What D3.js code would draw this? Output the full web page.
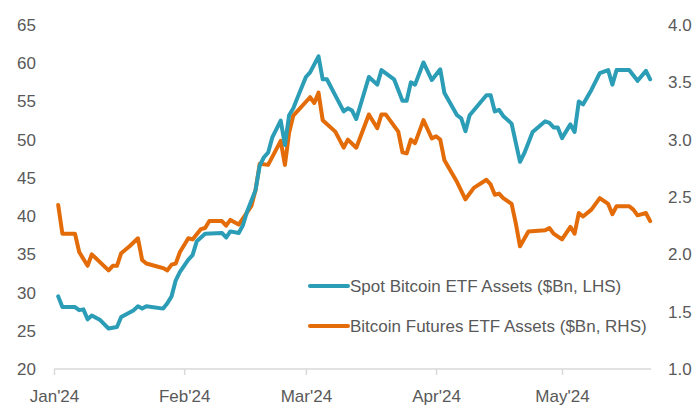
<!DOCTYPE html>
<html>
<head>
<meta charset="utf-8">
<script src="https://cdn.jsdelivr.net/npm/d3@7"></script>
<style>
  html, body { margin: 0; padding: 0; background: #fff; }
  svg { display: block; }
  text { font-family: "Liberation Sans", Arial, sans-serif; fill: #595959; }
</style>
</head>
<body>
<svg id="chart" width="696" height="409"></svg>
<script>
// Spot Bitcoin ETF assets, $Bn (left axis)
const spotDates = ["2024-01-02","2024-01-03","2024-01-06","2024-01-07","2024-01-08","2024-01-09","2024-01-10","2024-01-12","2024-01-14","2024-01-16","2024-01-17","2024-01-20","2024-01-21","2024-01-22","2024-01-23","2024-01-27","2024-01-28","2024-01-29","2024-01-30","2024-01-31","2024-02-02","2024-02-03","2024-02-04","2024-02-06","2024-02-10","2024-02-11","2024-02-12","2024-02-14","2024-02-15","2024-02-16","2024-02-18","2024-02-19","2024-02-20","2024-02-21","2024-02-22","2024-02-24","2024-02-25","2024-02-26","2024-02-27","2024-02-28","2024-03-01","2024-03-02","2024-03-04","2024-03-05","2024-03-06","2024-03-08","2024-03-10","2024-03-11","2024-03-12","2024-03-13","2024-03-16","2024-03-18","2024-03-19","2024-03-22","2024-03-24","2024-03-25","2024-03-26","2024-03-27","2024-03-29","2024-03-31","2024-04-02","2024-04-03","2024-04-06","2024-04-07","2024-04-08","2024-04-09","2024-04-13","2024-04-14","2024-04-15","2024-04-16","2024-04-17","2024-04-19","2024-04-21","2024-04-22","2024-04-24","2024-04-27","2024-04-28","2024-04-29","2024-04-30","2024-05-01","2024-05-03","2024-05-04","2024-05-05","2024-05-06","2024-05-08","2024-05-10","2024-05-12","2024-05-13","2024-05-14","2024-05-17","2024-05-19","2024-05-21","2024-05-22"];
const spotValues = [29.5,28.1,28.1,27.7,27.8,26.5,27.0,26.4,25.3,25.5,26.8,27.7,28.2,27.9,28.2,27.9,28.6,29.5,31.6,32.7,34.3,34.9,36.7,37.7,37.8,37.2,38.0,37.8,38.8,40.6,43.4,46.6,47.7,48.3,50.3,52.5,49.3,53.2,54.1,55.5,58.2,58.8,60.9,57.9,57.9,55.8,53.7,54.1,53.8,52.7,58.2,57.2,59.1,57.9,55.1,55.1,57.5,57.2,60.1,57.8,59.2,56.1,53.2,52.8,51.1,53.2,55.8,55.8,53.7,53.9,53.1,52.1,47.1,48.2,51.0,52.4,52.2,51.6,51.6,50.2,52.0,51.0,55.0,54.6,56.5,58.7,59.1,57.2,59.1,59.1,57.7,59.0,57.9];

// Bitcoin futures ETF assets, $Bn (right axis)
const futDates = ["2024-01-02","2024-01-03","2024-01-06","2024-01-07","2024-01-09","2024-01-10","2024-01-14","2024-01-15","2024-01-16","2024-01-17","2024-01-19","2024-01-21","2024-01-22","2024-01-23","2024-01-26","2024-01-27","2024-01-28","2024-01-29","2024-01-30","2024-01-31","2024-02-02","2024-02-03","2024-02-05","2024-02-06","2024-02-07","2024-02-10","2024-02-11","2024-02-12","2024-02-14","2024-02-17","2024-02-18","2024-02-19","2024-02-21","2024-02-24","2024-02-25","2024-02-26","2024-02-27","2024-03-02","2024-03-03","2024-03-04","2024-03-05","2024-03-08","2024-03-10","2024-03-11","2024-03-13","2024-03-16","2024-03-18","2024-03-19","2024-03-20","2024-03-23","2024-03-24","2024-03-25","2024-03-26","2024-03-27","2024-03-29","2024-03-31","2024-04-01","2024-04-02","2024-04-03","2024-04-06","2024-04-08","2024-04-10","2024-04-13","2024-04-14","2024-04-15","2024-04-16","2024-04-17","2024-04-19","2024-04-20","2024-04-21","2024-04-23","2024-04-27","2024-04-28","2024-04-29","2024-05-01","2024-05-03","2024-05-04","2024-05-05","2024-05-06","2024-05-08","2024-05-10","2024-05-12","2024-05-13","2024-05-14","2024-05-17","2024-05-18","2024-05-19","2024-05-21","2024-05-22"];
const futValues = [2.43,2.18,2.18,2.02,1.90,2.00,1.86,1.90,1.90,2.01,2.07,2.14,1.95,1.92,1.89,1.88,1.86,1.91,1.92,2.02,2.14,2.13,2.22,2.23,2.29,2.29,2.25,2.30,2.26,2.42,2.56,2.79,2.78,2.99,2.78,3.06,3.21,3.37,3.32,3.41,3.17,3.07,2.93,3.00,2.93,3.22,3.10,3.22,3.22,3.07,2.89,2.88,3.00,2.97,3.17,3.01,3.03,3.00,2.82,2.63,2.48,2.58,2.65,2.61,2.52,2.53,2.49,2.44,2.27,2.07,2.20,2.21,2.23,2.18,2.13,2.24,2.18,2.36,2.33,2.39,2.49,2.44,2.35,2.42,2.42,2.39,2.34,2.36,2.29];

const leftTicks = [20,25,30,35,40,45,50,55,60,65];
const rightTicks = [1.0,1.5,2.0,2.5,3.0,3.5,4.0];
const seriesNames = ["Spot Bitcoin ETF Assets ($Bn, LHS)", "Bitcoin Futures ETF Assets ($Bn, RHS)"];
const colors = ["#2b9db6", "#e36c09"];

const parse = d3.utcParse("%Y-%m-%d");
const spot = spotDates.map((d, i) => ({ date: parse(d), value: spotValues[i] }));
const fut = futDates.map((d, i) => ({ date: parse(d), value: futValues[i] }));

const svg = d3.select("#chart");

const x = d3.scaleUtc()
  .domain([parse("2024-01-01"), parse("2024-05-01")])
  .range([54, 562]);
const yL = d3.scaleLinear().domain([20, 65]).range([369, 25]);
const yR = d3.scaleLinear().domain([1.0, 4.0]).range([369, 25]);

const lastDate = d3.max(spot, d => d.date);

// x axis: baseline and month ticks
const xAxis = d3.axisBottom(x)
  .ticks(d3.utcMonth.every(1))
  .tickFormat(d3.utcFormat("%b'%y"))
  .tickSize(6)
  .tickSizeOuter(0);
const gx = svg.append("g").attr("transform", "translate(0,369)").call(xAxis);
gx.select(".domain").remove();
gx.insert("line", ":first-child")
  .attr("x1", x(parse("2024-01-01"))).attr("x2", x(lastDate) + 1)
  .attr("y1", 0).attr("y2", 0)
  .attr("stroke", "#d9d9d9").attr("stroke-width", 1.5);
gx.selectAll(".tick line").attr("stroke", "#d9d9d9").attr("stroke-width", 1.5);
gx.selectAll(".tick text")
  .attr("y", 21)
  .style("font-size", "17px")
  .style("fill", "#595959")
  .style("font-family", "'Liberation Sans', Arial, sans-serif");

// left axis labels
const gl = svg.append("g").attr("transform", "translate(36,0)")
  .call(d3.axisLeft(yL).tickValues(leftTicks).tickSize(0).tickPadding(0));
gl.select(".domain").remove();
gl.selectAll(".tick text")
  .style("font-size", "17px").style("fill", "#595959")
  .style("font-family", "'Liberation Sans', Arial, sans-serif");

// right axis labels
const gr = svg.append("g").attr("transform", "translate(668,0)")
  .call(d3.axisRight(yR).tickValues(rightTicks).tickFormat(d3.format(".1f")).tickSize(0).tickPadding(0));
gr.select(".domain").remove();
gr.selectAll(".tick text")
  .style("font-size", "17px").style("fill", "#595959")
  .style("font-family", "'Liberation Sans', Arial, sans-serif");

// series lines
const lineL = d3.line().x(d => x(d.date)).y(d => yL(d.value));
const lineR = d3.line().x(d => x(d.date)).y(d => yR(d.value));

svg.append("path").datum(fut)
  .attr("fill", "none").attr("stroke", colors[1]).attr("stroke-width", 4)
  .attr("stroke-linejoin", "round").attr("stroke-linecap", "round")
  .attr("d", lineR);
svg.append("path").datum(spot)
  .attr("fill", "none").attr("stroke", colors[0]).attr("stroke-width", 4)
  .attr("stroke-linejoin", "round").attr("stroke-linecap", "round")
  .attr("d", lineL);

// legend
const legend = svg.append("g").attr("transform", "translate(310,286)");
seriesNames.forEach((name, i) => {
  const g = legend.append("g").attr("transform", `translate(0,${i * 40})`);
  g.append("line").attr("x1", 0).attr("x2", 38).attr("y1", 0).attr("y2", 0)
    .attr("stroke", colors[i]).attr("stroke-width", 4).attr("stroke-linecap", "round");
  g.append("text").attr("x", 40).attr("y", 6)
    .style("font-size", "17px").text(name);
});
</script>
</body>
</html>
